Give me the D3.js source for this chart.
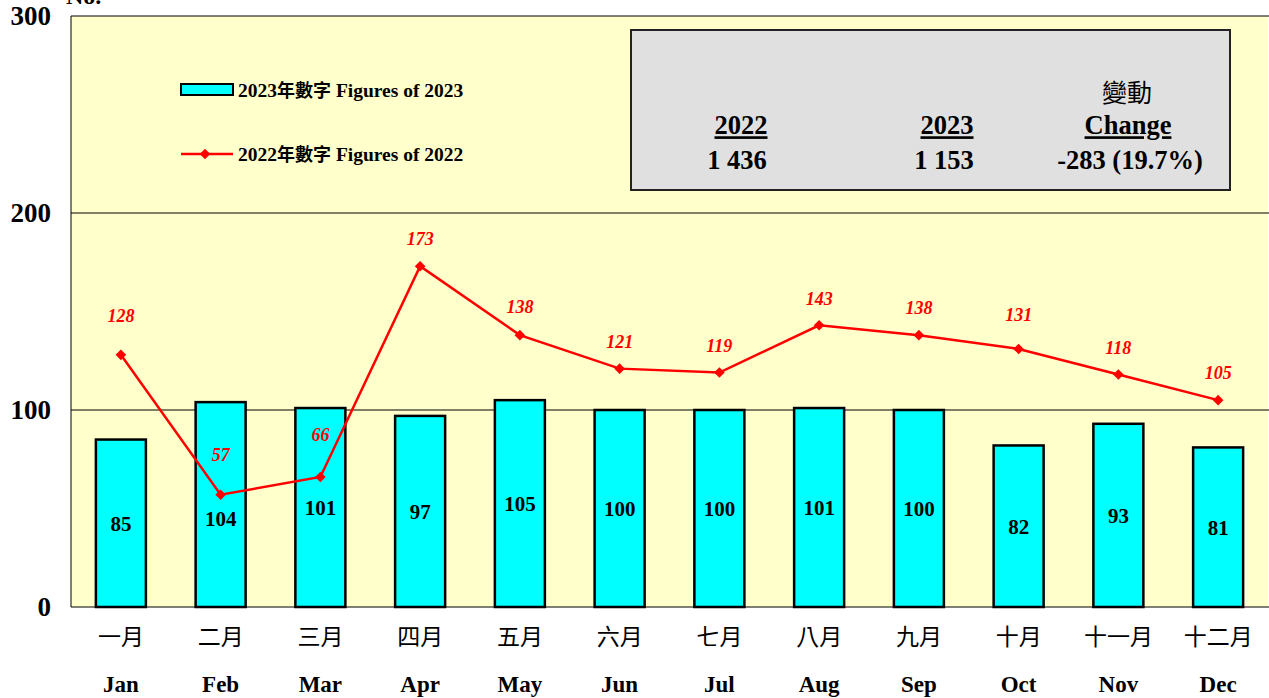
<!DOCTYPE html>
<html>
<head>
<meta charset="utf-8">
<script src="https://d3js.org/d3.v7.min.js"></script>
<style>
  body { margin: 0; background: #fff; }
  text { font-family: "Liberation Serif", "Times New Roman", serif; font-weight: bold; }
  .cjk { font-family: "Noto Sans CJK TC", sans-serif; font-weight: normal; }
</style>
</head>
<body>
<script>
const monthsZh = ['一月','二月','三月','四月','五月','六月','七月','八月','九月','十月','十一月','十二月'];
const monthsEn = ['Jan','Feb','Mar','Apr','May','Jun','Jul','Aug','Sep','Oct','Nov','Dec'];
const figures2023 = [85, 104, 101, 97, 105, 100, 100, 101, 100, 82, 93, 81];
const figures2022 = [128, 57, 66, 173, 138, 121, 119, 143, 138, 131, 118, 105];
const yTicks = [0, 100, 200, 300];
const totals = { y2022: '1 436', y2023: '1 153', change: '-283 (19.7%)' };

// how far (px) each 2022 label sits above its marker
const labelLift = [39, 40, 42, 27, 28, 27, 27, 27, 27, 34, 27, 27];

const width = 1269, height = 698;
const margin = { top: 16, right: 1, bottom: 91, left: 71 };
const innerW = width - margin.left - margin.right;
const innerH = height - margin.top - margin.bottom;

const svg = d3.select('body').append('svg').attr('width', width).attr('height', height);
const g = svg.append('g').attr('transform', `translate(${margin.left},${margin.top})`);

const x = d3.scaleBand().domain(monthsEn).range([0, innerW]);
const y = d3.scaleLinear().domain([0, 300]).range([innerH, 0]);

g.append('rect').attr('width', innerW).attr('height', innerH).attr('fill', '#ffffcc');

// grid
g.selectAll('.grid').data(yTicks).enter().append('line')
  .attr('x1', 0).attr('x2', innerW + 2)
  .attr('y1', d => y(d)).attr('y2', d => y(d))
  .attr('stroke', '#000').attr('stroke-width', 1);
g.append('line').attr('x1', 0).attr('x2', 0).attr('y1', 0).attr('y2', innerH).attr('stroke', '#000');

// y labels
g.selectAll('.ylab').data(yTicks).enter().append('text')
  .attr('x', -20).attr('y', d => y(d)).attr('dy', '0.35em')
  .attr('text-anchor', 'end').attr('font-size', 27).text(d => d);
svg.append('text').attr('x', 66).attr('y', 4).attr('font-size', 24).text('No.');

// bars
const bw = 50;
const cx = i => x(monthsEn[i]) + x.bandwidth() / 2;
g.selectAll('.bar').data(figures2023).enter().append('rect')
  .attr('x', (d, i) => cx(i) - bw / 2)
  .attr('y', d => y(d)).attr('width', bw).attr('height', d => innerH - y(d))
  .attr('fill', '#00ffff').attr('stroke', '#000').attr('stroke-width', 2.5);
g.selectAll('.blab').data(figures2023).enter().append('text')
  .attr('x', (d, i) => cx(i))
  .attr('y', (d, i) => (y(d) + innerH) / 2 + (i === 1 ? 14 : 0)).attr('dy', '0.35em')
  .attr('text-anchor', 'middle').attr('font-size', 21).text(d => d);

// line
g.append('path').datum(figures2022)
  .attr('d', d3.line().x((d, i) => cx(i)).y(d => y(d)))
  .attr('fill', 'none').attr('stroke', '#ff0000').attr('stroke-width', 2.5);
g.selectAll('.pt').data(figures2022).enter().append('path')
  .attr('d', d3.symbol().type(d3.symbolSquare).size(56))
  .attr('transform', (d, i) => `translate(${cx(i)},${y(d)}) rotate(45)`).attr('fill', '#ff0000');
g.selectAll('.plab').data(figures2022).enter().append('text')
  .attr('x', (d, i) => cx(i)).attr('y', (d, i) => y(d) - labelLift[i]).attr('dy', '0.35em')
  .attr('text-anchor', 'middle').attr('font-size', 18).attr('font-style', 'italic')
  .attr('fill', '#ff0000').text(d => d);

// x labels
g.selectAll('.xzh').data(monthsZh).enter().append('text').attr('class', 'cjk')
  .attr('x', (d, i) => cx(i)).attr('y', innerH + 30).attr('dy', '0.35em')
  .attr('text-anchor', 'middle').attr('font-size', 23).text(d => d);
g.selectAll('.xen').data(monthsEn).enter().append('text')
  .attr('x', (d, i) => cx(i)).attr('y', innerH + 77).attr('dy', '0.35em')
  .attr('text-anchor', 'middle').attr('font-size', 23).text(d => d);

// legend
svg.append('rect').attr('x', 181).attr('y', 84).attr('width', 52).attr('height', 11)
  .attr('fill', '#00ffff').attr('stroke', '#000').attr('stroke-width', 2);
svg.append('line').attr('x1', 181).attr('x2', 233).attr('y1', 154).attr('y2', 154)
  .attr('stroke', '#ff0000').attr('stroke-width', 2.5);
svg.append('path').attr('d', d3.symbol().type(d3.symbolSquare).size(56))
  .attr('transform', 'translate(205,154) rotate(45)').attr('fill', '#ff0000');
const leg = [['2023', 90], ['2022', 154]];
leg.forEach(([yr, yy]) => {
  const t = svg.append('text').attr('x', 238).attr('y', yy).attr('dy', '0.35em').attr('font-size', 19.5);
  t.append('tspan').text(yr);
  t.append('tspan').attr('class', 'cjk').style('font-weight', 'bold').attr('font-size', 18).text('年數字');
  t.append('tspan').text(' Figures of ' + yr);
});

// summary box
svg.append('rect').attr('x', 631).attr('y', 30).attr('width', 599).attr('height', 160)
  .attr('fill', '#e0e0e0').attr('stroke', '#222').attr('stroke-width', 2);
const boxText = (tx, ty, s, opts = {}) => {
  const t = svg.append('text').attr('x', tx).attr('y', ty).attr('dy', '0.35em')
    .attr('text-anchor', 'middle').attr('font-size', 26.5).text(s);
  if (opts.u) t.attr('text-decoration', 'underline');
  if (opts.cjk) t.attr('class', 'cjk').attr('font-size', 25);
  return t;
};
boxText(741, 125, '2022', { u: true });
boxText(737, 160, totals.y2022);
boxText(947, 125, '2023', { u: true });
boxText(944, 160, totals.y2023);
boxText(1127, 93, '變動', { cjk: true });
boxText(1128, 125, 'Change', { u: true });
boxText(1130, 160, totals.change);
</script>
</body>
</html>
